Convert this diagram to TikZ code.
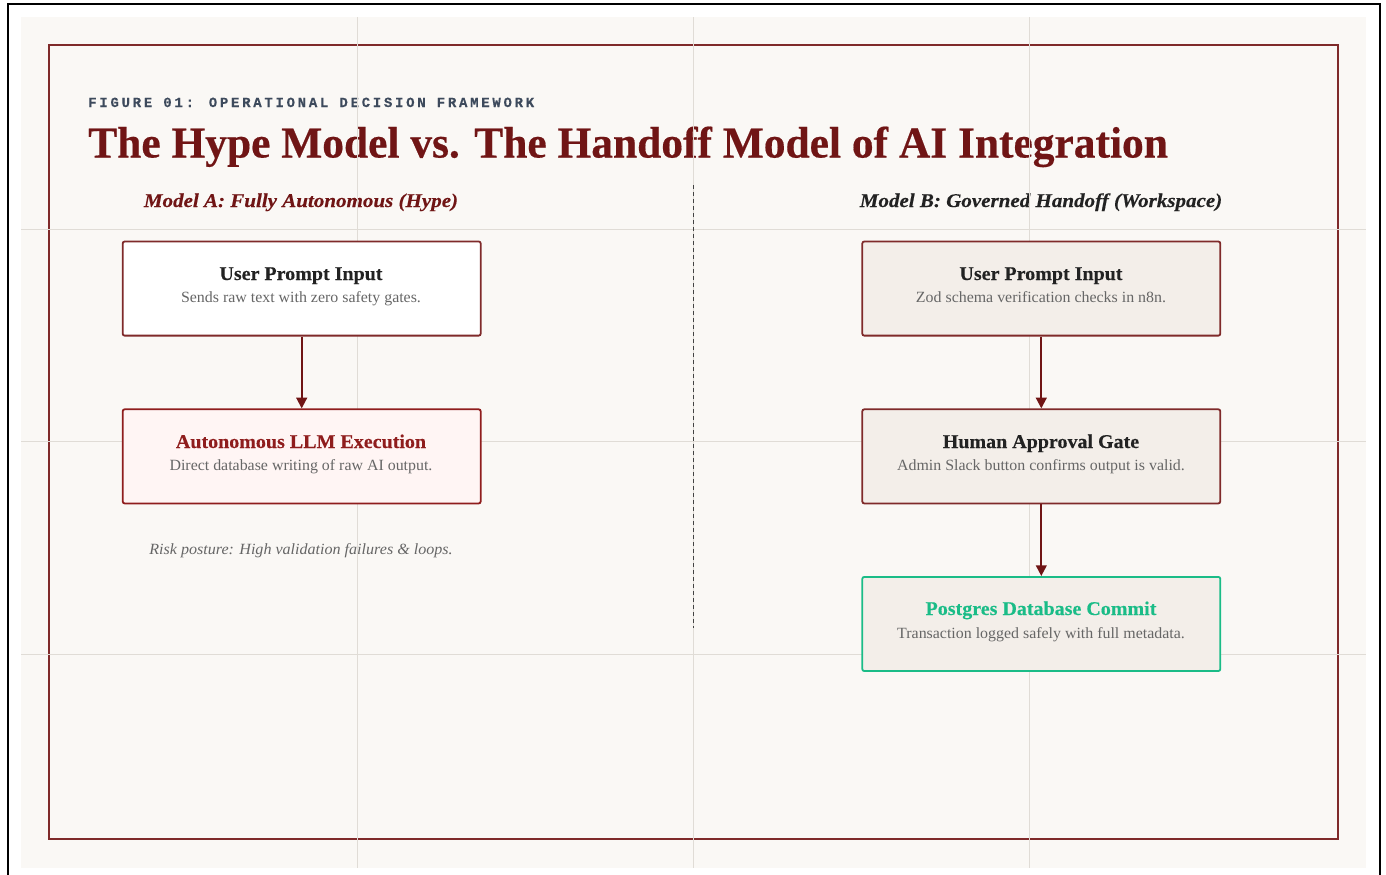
\documentclass[tikz,border=0pt]{standalone}
\usepackage{fontspec}
\usetikzlibrary{arrows.meta}
\setmainfont{Liberation Serif}
\newfontfamily\titlefont[FakeStretch=.987,BoldFeatures={FakeBold=.4}]{Liberation Serif}
\newfontfamily\ttlfont[FakeStretch=1.028,BoldFeatures={FakeBold=.25}]{Liberation Serif}
\newfontfamily\subfont[FakeStretch=1.02]{Liberation Serif}
\newfontfamily\headfont[FakeStretch=1.08,BoldItalicFeatures={FakeBold=.25}]{Liberation Serif}
\newfontfamily\riskfont[FakeStretch=1.03]{Liberation Serif}
\newfontfamily\monoeye[LetterSpace=19.4,BoldFeatures={FakeBold=.2}]{Liberation Mono}
\definecolor{paper}{HTML}{FAF8F5}
\definecolor{maroon}{HTML}{701515}
\definecolor{framecol}{HTML}{7F2A2A}
\definecolor{gridcol}{HTML}{E0DCD6}
\definecolor{slatecol}{HTML}{3D4A5C}
\definecolor{inkcol}{HTML}{222222}
\definecolor{subcol}{HTML}{666666}
\definecolor{warmbox}{HTML}{F3EEE9}
\definecolor{pinkbox}{HTML}{FFF5F4}
\definecolor{redtxt}{HTML}{8F1D1D}
\definecolor{greencol}{HTML}{1ABC87}
\tikzset{
  x=0.75pt,y=-0.75pt,
  gridline/.style={draw=gridcol,line width=0.75pt},
  flowbox/.style={rounded corners=1.5pt,line width=1.35pt,draw=framecol,minimum width=268.5pt,minimum height=70.6pt,inner sep=0pt,anchor=north west},
  ttl/.style={anchor=base,inner sep=0pt,text=inkcol,font=\ttlfont\bfseries\fontsize{14.6}{16}\selectfont},
  subt/.style={anchor=base,inner sep=0pt,text=subcol,font=\subfont\fontsize{11.7}{14}\selectfont},
  head/.style={anchor=base,inner sep=0pt,font=\headfont\bfseries\itshape\fontsize{14.6}{16}\selectfont},
  flow/.style={draw=maroon,line width=1.5pt,-{Triangle[length=8pt,width=8pt]}},
}
\begin{document}
\begin{tikzpicture}
\useasboundingbox (0,0) rectangle (1386,875);
\fill[white] (0,0) rectangle (1386,875);
\draw[black,line width=1.5pt] (8,875) -- (8,4) -- (1379.5,4) -- (1379.5,875);
\fill[paper] (21,17) rectangle (1366,868);
\draw[framecol,line width=1.5pt] (49,45) rectangle (1338,839);
\node[anchor=base west,inner sep=0pt,text=slatecol,font=\monoeye\bfseries\fontsize{10.5}{12}\selectfont] (eyebrow) at (88,107) {FIGURE 01: OPERATIONAL DECISION FRAMEWORK};
\node[anchor=base west,inner sep=0pt,text=maroon,font=\titlefont\bfseries\fontsize{33}{36}\selectfont] (title) at (88,157.5) {The Hype Model vs. The Handoff Model of AI Integration};
\node[head,text=maroon] (headA) at (301,207) {Model A: Fully Autonomous (Hype)};
\node[head,text=inkcol] (headB) at (1041,207) {Model B: Governed Handoff (Workspace)};
\node[anchor=base,inner sep=0pt,text=subcol,font=\riskfont\itshape\fontsize{11.7}{14}\selectfont] (risk) at (301,554) {Risk posture: High validation failures \& loops.};
% grid
\foreach \gx in {357,693,1029} \draw[gridline] (\gx,17) -- (\gx,868);
\foreach \gy in {229.6,441.8,654.6} \draw[gridline] (21,\gy) -- (1366,\gy);
\coordinate (dashtop) at (693,185);
\coordinate (dashend) at (693,628);
\draw[draw=inkcol!85,line width=0.75pt,dash pattern=on 3pt off 2.25pt] (dashtop) -- (dashend);
% boxes
\node[flowbox,fill=white] (a1) at (121.8,240.6) {};
\node[flowbox,fill=pinkbox,draw=redtxt] (a2) at (121.8,408.4) {};
\node[flowbox,fill=warmbox] (b1) at (861.4,240.6) {};
\node[flowbox,fill=warmbox] (b2) at (861.4,408.4) {};
\node[flowbox,fill=warmbox,draw=greencol] (b3) at (861.4,576) {};
\node[ttl] (a1t) at (301,280) {User Prompt Input};
\node[subt] (a1s) at (301,302) {Sends raw text with zero safety gates.};
\node[ttl,text=redtxt] (a2t) at (301,448) {Autonomous LLM Execution};
\node[subt] (a2s) at (301,470) {Direct database writing of raw AI output.};
\node[ttl] (b1t) at (1041,280) {User Prompt Input};
\node[subt] (b1s) at (1041,302) {Zod schema verification checks in n8n.};
\node[ttl] (b2t) at (1041,448) {Human Approval Gate};
\node[subt] (b2s) at (1041,470) {Admin Slack button confirms output is valid.};
\node[ttl,text=greencol] (b3t) at (1041,615) {Postgres Database Commit};
\node[subt] (b3s) at (1041,638) {Transaction logged safely with full metadata.};
\draw[flow] (a1) -- (a2);
\draw[flow] (b1) -- (b2);
\draw[flow] (b2) -- (b3);
\end{tikzpicture}
\end{document}
